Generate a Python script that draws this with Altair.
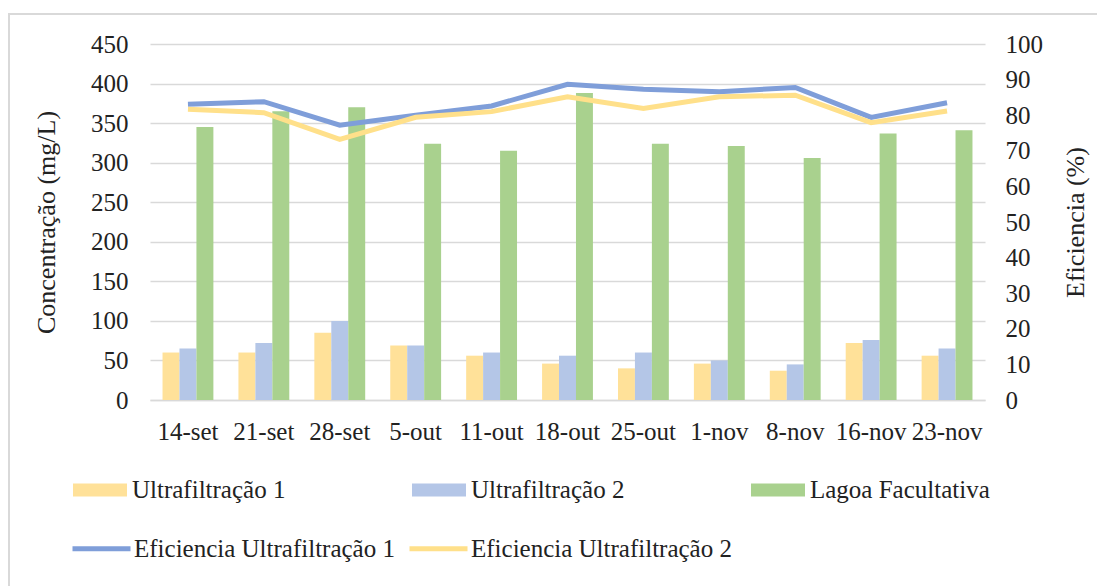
import altair as alt
import pandas as pd

datas = ["14-set", "21-set", "28-set", "5-out", "11-out", "18-out",
         "25-out", "1-nov", "8-nov", "16-nov", "23-nov"]

uf1 = [60, 60, 85, 69, 56, 46, 40, 46, 37, 72, 56]
uf2 = [65, 72, 100, 69, 60, 56, 60, 50, 45, 76, 65]
lagoa = [345, 365, 370, 324, 315, 388, 324, 321, 306, 337, 341]

ef_uf1 = [83.1, 83.8, 77.2, 80.0, 82.6, 88.7, 87.3, 86.6, 87.8, 79.4, 83.5]
ef_uf2 = [81.7, 80.7, 73.2, 79.4, 81.0, 85.2, 81.9, 85.2, 85.6, 77.9, 81.2]

bar_series = ["Ultrafiltração 1", "Ultrafiltração 2", "Lagoa Facultativa"]
bar_colors = ["#FFE199", "#B4C6E7", "#A9D18E"]
line_series = ["Eficiencia Ultrafiltração 1", "Eficiencia Ultrafiltração 2"]
line_colors = ["#7F9ED9", "#FFE08A"]

rows = []
for name, vals in zip(bar_series, [uf1, uf2, lagoa]):
    for d, v in zip(datas, vals):
        rows.append({"data": d, "serie": name, "valor": v})
df_bars = pd.DataFrame(rows)

rows = []
for name, vals in zip(line_series, [ef_uf1, ef_uf2]):
    for d, v in zip(datas, vals):
        rows.append({"data": d, "serie": name, "eficiencia": v})
df_lines = pd.DataFrame(rows)

FONT = "Liberation Serif"
TXT = "#222222"
GRID = "#D9D9D9"

xenc = alt.X("data:N", sort=datas,
             scale=alt.Scale(paddingInner=0.33, paddingOuter=0.165),
             axis=alt.Axis(title=None, labelAngle=0, labelFontSize=25, labelFont=FONT,
                           labelColor=TXT, labelPadding=19, ticks=False,
                           domainColor=GRID, domainWidth=1.5))

bars = alt.Chart(df_bars).mark_bar().encode(
    x=xenc,
    xOffset=alt.XOffset("serie:N", sort=bar_series),
    y=alt.Y("valor:Q", scale=alt.Scale(domain=[0, 450], nice=False),
            axis=alt.Axis(values=list(range(0, 451, 50)), title="Concentração (mg/L)",
                          titleFont=FONT, titleFontSize=26, titleFontWeight="normal",
                          titleColor=TXT, titlePadding=31, labelFont=FONT, labelFontSize=25,
                          labelColor=TXT, labelPadding=22, ticks=False, domain=False,
                          gridColor=GRID, gridWidth=1.5)),
    fill=alt.Fill("serie:N", sort=bar_series,
                  scale=alt.Scale(domain=bar_series, range=bar_colors),
                  legend=alt.Legend(title=None, orient="none", legendX=-77, legendY=419,
                                    columns=3, gridAlign="all", columnPadding=100,
                                    symbolType="M-1,-0.24L1,-0.24L1,0.24L-1,0.24Z",
                                    symbolSize=2916, symbolStrokeWidth=0, labelOffset=5,
                                    labelFont=FONT, labelFontSize=25, labelColor=TXT,
                                    labelLimit=400, padding=0)),
)

lines = alt.Chart(df_lines).mark_line(strokeWidth=5).encode(
    x=alt.X("data:N", sort=datas),
    y=alt.Y("eficiencia:Q", scale=alt.Scale(domain=[0, 100], nice=False),
            axis=alt.Axis(orient="right", values=list(range(0, 101, 10)), title="Eficiencia (%)",
                          titleFont=FONT, titleFontSize=26, titleFontWeight="normal",
                          titleColor=TXT, titleAngle=270, titlePadding=46, labelFont=FONT,
                          labelFontSize=25, labelColor=TXT, labelPadding=20, ticks=False,
                          domain=False, grid=False)),
    stroke=alt.Stroke("serie:N", sort=line_series,
                      scale=alt.Scale(domain=line_series, range=line_colors),
                      legend=alt.Legend(title=None, orient="none", legendX=-80, legendY=473,
                                        columns=2, gridAlign="all", columnPadding=4,
                                        symbolType="stroke", symbolSize=3364,
                                        symbolStrokeWidth=5, labelOffset=1,
                                        labelFont=FONT, labelFontSize=25, labelColor=TXT,
                                        labelLimit=400, padding=0)),
    order=alt.Order("serie:N"),
)

frame = alt.Chart(pd.DataFrame({"k": [0]})).mark_rect(
    fillOpacity=0, stroke=GRID, strokeWidth=2
).encode(x=alt.value(-141), x2=alt.value(960), y=alt.value(-30), y2=alt.value(560))

chart = alt.layer(frame, bars, lines).resolve_scale(
    y="independent"
).properties(
    width=835, height=356,
    autosize=alt.AutoSizeParams(type="none"),
    padding={"left": 150, "top": 44, "right": 112, "bottom": 186},
    background="white",
).configure_view(stroke=None)

chart.save("out.html", embed_options={"renderer": "svg", "actions": False})
